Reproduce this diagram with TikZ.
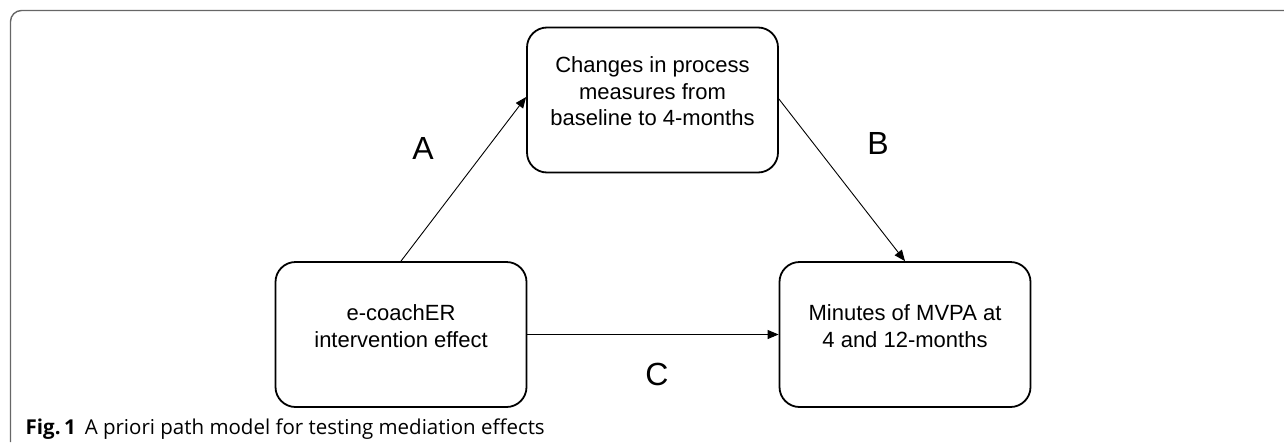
\documentclass[tikz,border=0pt]{standalone}
\usepackage{fontspec}
\setmainfont{Liberation Sans}
\newfontfamily\capfont{Open Sans}
\usetikzlibrary{arrows.meta}
\tikzset{
  box/.style={draw=black, line width=1.8pt, rounded corners=20pt, minimum width=251pt, minimum height=145pt, inner sep=0pt},
  boxtext/.style={align=center, inner sep=0pt, font=\fontsize{22}{26.5}\selectfont},
  pathlabel/.style={inner sep=0pt, font=\fontsize{32}{36}\selectfont},
  conn/.style={draw=black, line width=0.9pt, -{Triangle[length=11pt,width=9pt]}},
  frame/.style={draw=black!60, line width=1.4pt, rounded corners=11pt}
}
\begin{document}
\begin{tikzpicture}[x=1pt,y=-1pt]
\useasboundingbox (0,0) rectangle (1284,442);
\coordinate (fbl) at (10.5,442);
\coordinate (ftl) at (10.5,10.5);
\coordinate (ftr) at (1284,10.5);
\draw[frame] (fbl) -- (ftl) -- (ftr);

\node[box] (mid) at (652.5,100) {};
\node[box] (left) at (401,334.5) {};
\node[box] (right) at (905,334.5) {};

\node[boxtext] (tmid) at ([yshift=8.5pt]mid.center) {Changes in process\\measures from\\baseline to 4-months};
\node[boxtext] (tleft) at ([yshift=8.5pt]left.center) {e-coachER\\intervention effect};
\node[boxtext] (tright) at ([yshift=8.5pt]right.center) {Minutes of MVPA at\\4 and 12-months};

\draw[conn] (left.north) -- ([yshift=3pt]mid.west);
\draw[conn] ([yshift=1pt]mid.east) -- (right.north);
\draw[conn] (left.east) -- (right.west);

\node[pathlabel] (la) at (423,148) {A};
\node[pathlabel] (lb) at (878,143) {B};
\node[pathlabel] (lc) at (657,374) {C};

\node[anchor=base west, inner sep=0pt, font=\capfont\fontsize{20.5}{24}\selectfont] (cap) at (25.5,434) {\textbf{Fig.\,1}\hspace{9pt}A priori path model for testing mediation effects};
\end{tikzpicture}
\end{document}
